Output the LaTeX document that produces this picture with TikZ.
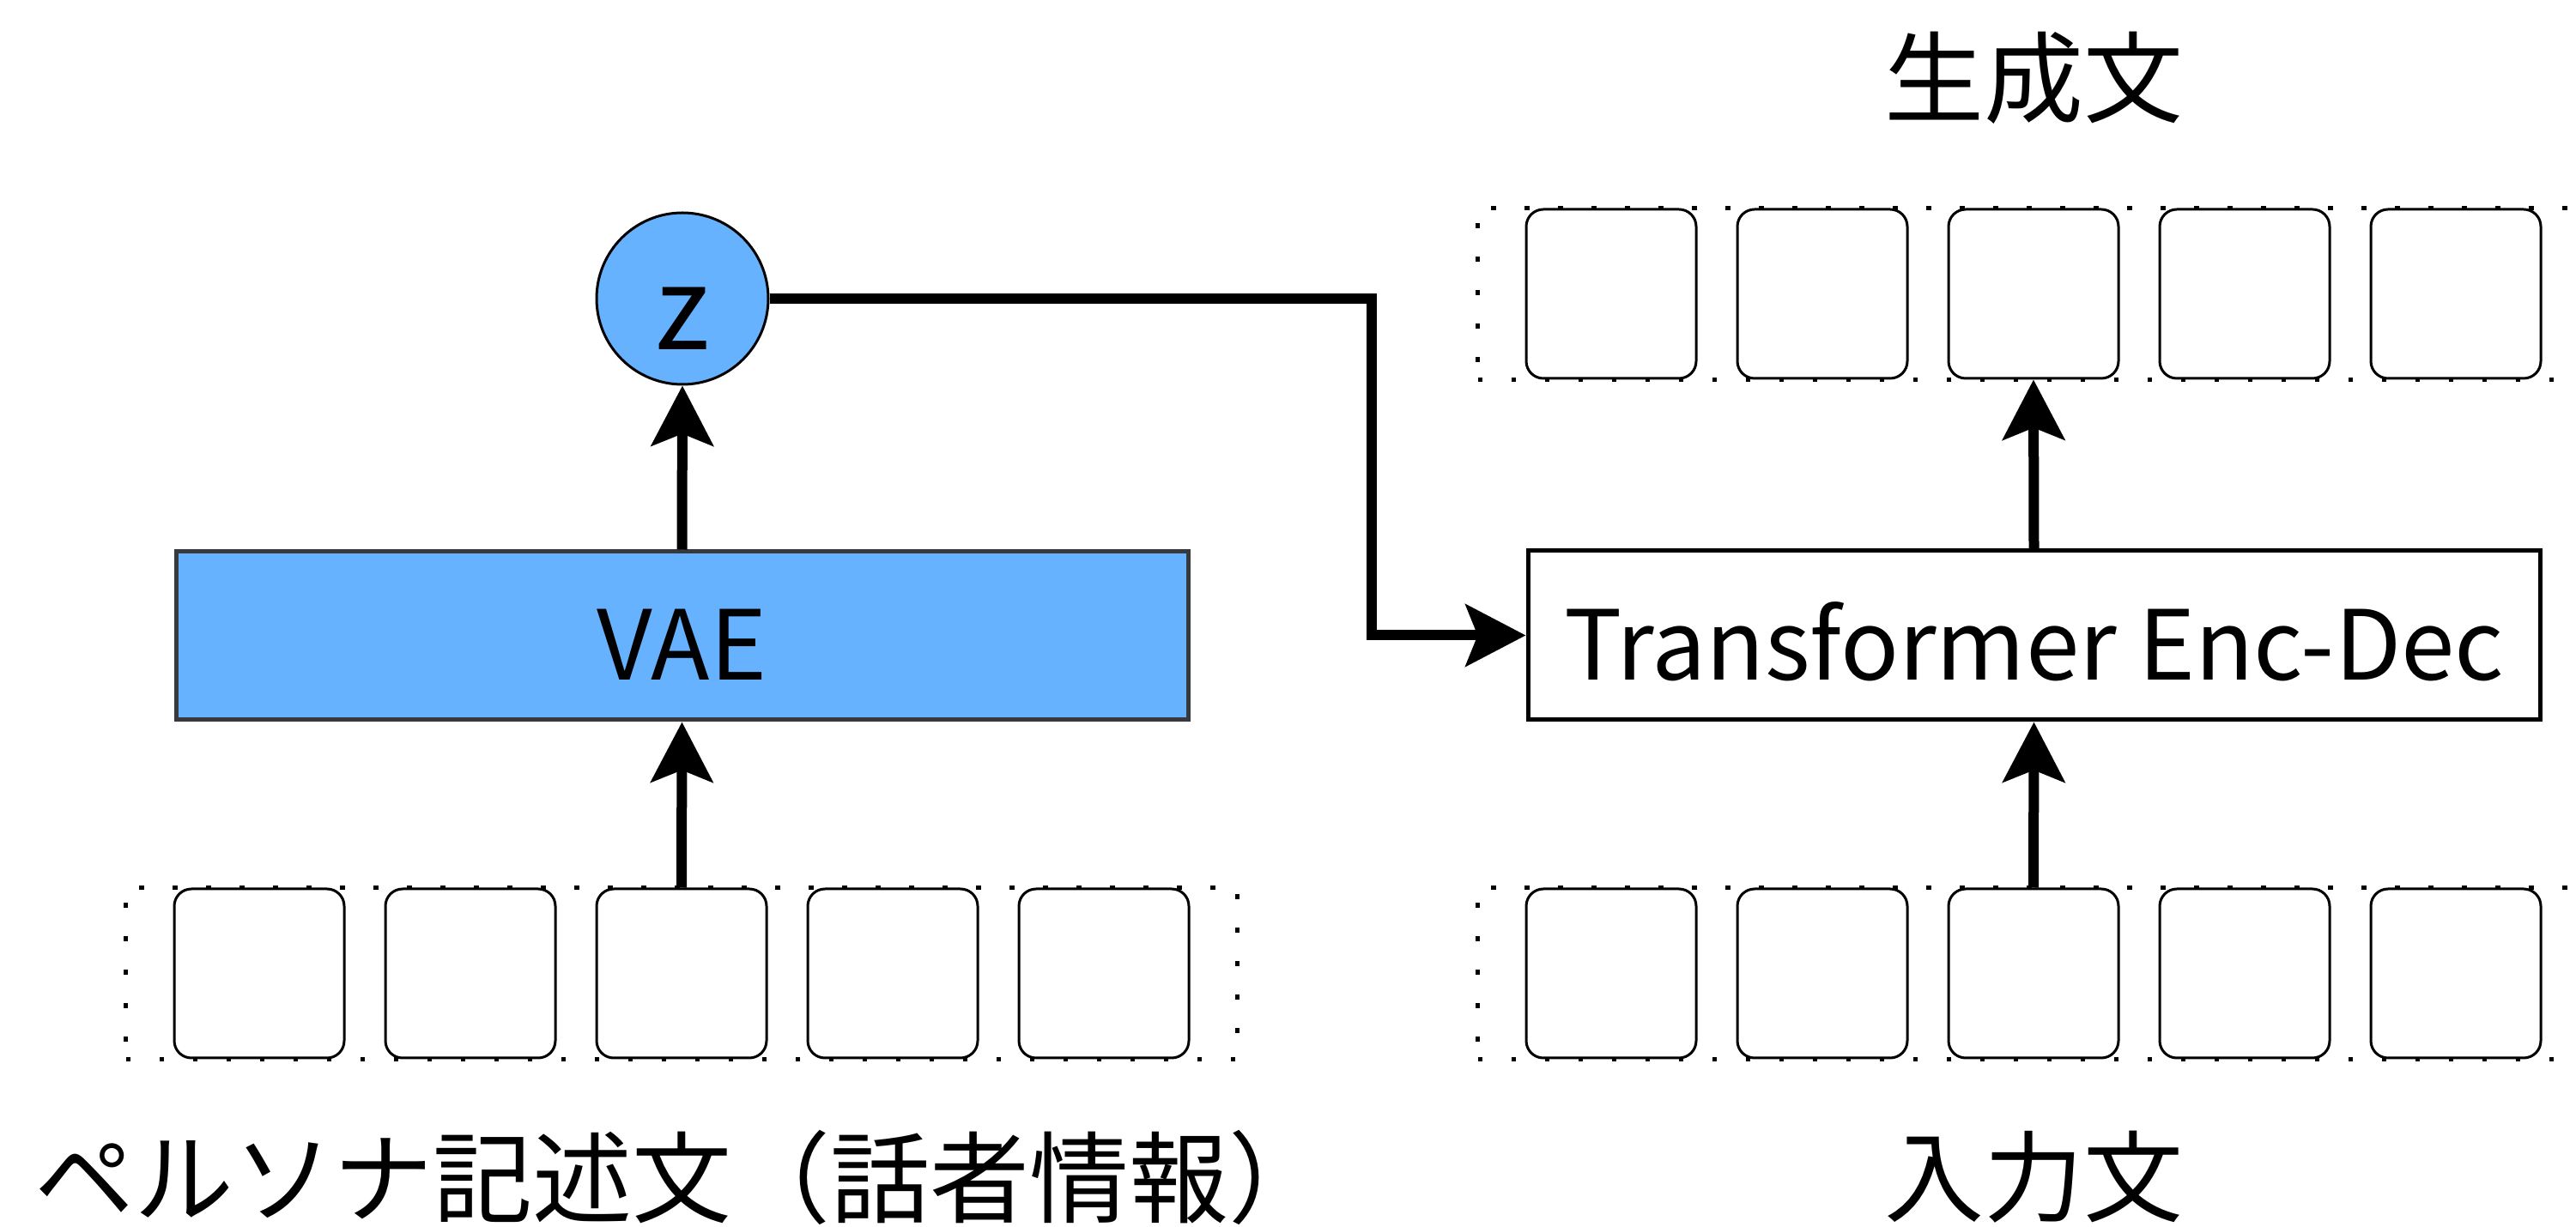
\documentclass[tikz,border=0pt]{standalone}
\usepackage{fontspec}
\setmainfont{Noto Sans CJK JP}
\usetikzlibrary{arrows.meta, positioning, fit, backgrounds}
\definecolor{vaeblue}{HTML}{66B2FF}
\definecolor{vaeedge}{HTML}{36393D}
\tikzstyle{arr}=[-{Stealth[length=0.7cm,width=0.72cm,inset=0.14cm]},line width=0.12cm]
\tikzstyle{tok}=[draw,rounded corners=0.2cm,line width=0.03cm,minimum width=1.98cm,minimum height=1.97cm,inner sep=0pt]
\tikzstyle{seqbox}=[draw,line width=0.055cm,dash pattern=on 0.055cm off 0.335cm,inner xsep=0.55cm,inner ysep=0pt]
\tikzstyle{bigfont}=[font=\fontsize{33}{40}\selectfont]
\tikzstyle{boxfont}=[font=\fontsize{32}{40}\selectfont]

\begin{document}
\begin{tikzpicture}
  \useasboundingbox (0,0) rectangle (30.01,-14.30);
  % token rows
  \foreach \i in {1,...,5} {
    \node[tok] (p\i) at (0.56+2.46*\i,-11.345) {};
    \node[tok] (in\i) at (16.31+2.46*\i,-11.345) {};
    \node[tok] (out\i) at (16.31+2.46*\i,-3.425) {};
  }
  \begin{scope}[on background layer]
    \node[seqbox,fit=(p1)(p5)] (prow) {};
    \node[seqbox,fit=(in1)(in5)] (inrow) {};
    \node[seqbox,fit=(out1)(out5)] (outrow) {};
  \end{scope}
  \node[draw=vaeedge,fill=vaeblue,line width=0.05cm,minimum width=11.79cm,minimum height=1.96cm,text height=1.04cm,text depth=0pt,boxfont] (vae) at (7.945,-7.41) {VAE};
  \node[draw,line width=0.05cm,minimum width=11.79cm,minimum height=1.97cm,text height=1.04cm,text depth=0pt,boxfont] (tf) at (23.695,-7.405) {Transformer Enc-Dec};
  \node[circle,draw,fill=vaeblue,line width=0.03cm,minimum size=2cm,inner sep=0pt,text height=1.2cm,text depth=0pt,font=\fontsize{38}{44}\selectfont] (z) at (7.95,-3.48) {z};
  % labels
  \node[bigfont] (gen) at (23.69,-0.91) {生成文};
  \node[bigfont] (inlab) at (23.69,-13.72) {入力文};
  \node[bigfont] (plab) at (7.94,-13.72) {ペルソナ記述文（話者情報）};
  % connectors
  \draw[arr] (p3.north) -- (vae.south);
  \draw[arr] (vae.north) -- (z.south);
  \coordinate (bend) at (15.98,-3.48);
  \draw[arr] (z.east) -- (bend) |- (tf.west);
  \draw[arr] (in3.north) -- (tf.south);
  \draw[arr] (tf.north) -- (out3.south);
\end{tikzpicture}
\end{document}
